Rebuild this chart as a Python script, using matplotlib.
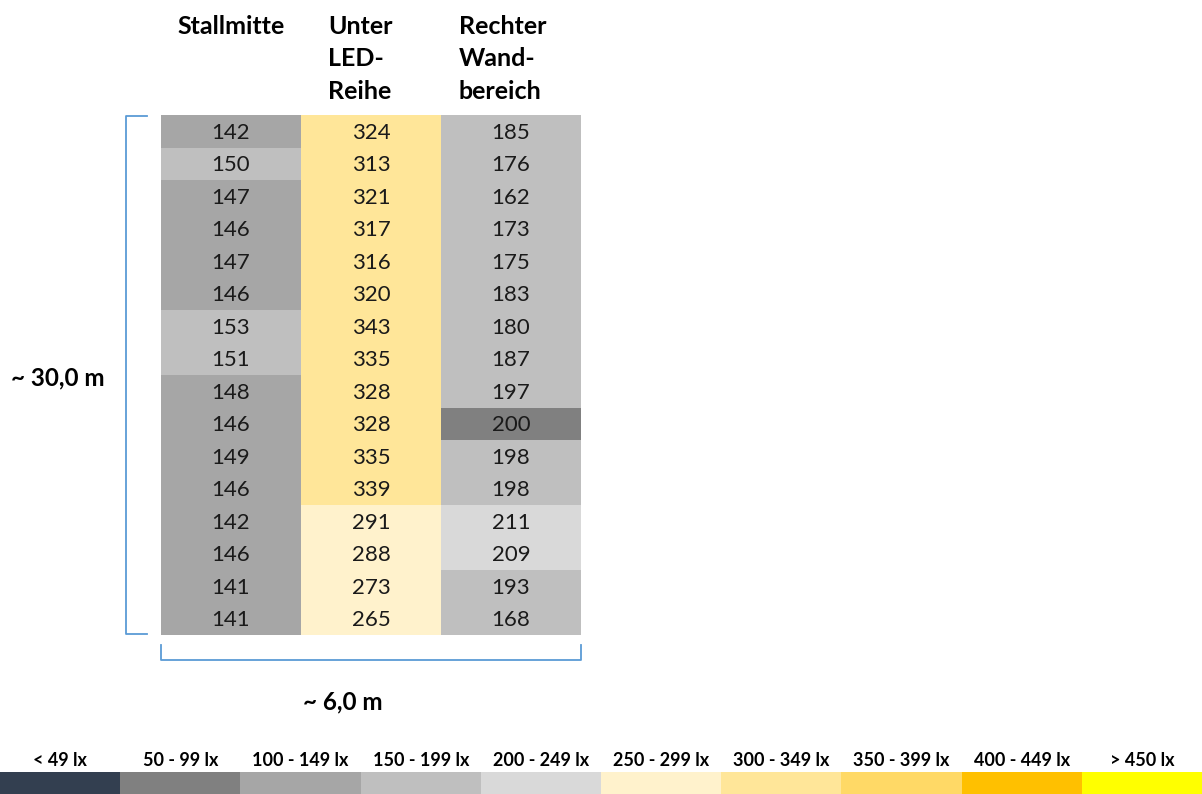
import numpy as np
import matplotlib.pyplot as plt
from matplotlib.patches import Rectangle

plt.rcParams['font.family'] = ['Lato', 'DejaVu Sans']

# measured illuminance (lx), top to bottom
headers = ['Stallmitte', 'Unter\nLED-\nReihe', 'Rechter\nWand-\nbereich']
stallmitte = [142, 150, 147, 146, 147, 146, 153, 151, 148, 146, 149, 146, 142, 146, 141, 141]
unter_led = [324, 313, 321, 317, 316, 320, 343, 335, 328, 328, 335, 339, 291, 288, 273, 265]
wand = [185, 176, 162, 173, 175, 183, 180, 187, 197, 200, 198, 198, 211, 209, 193, 168]

class_labels = ['< 49 lx', '50 - 99 lx', '100 - 149 lx', '150 - 199 lx', '200 - 249 lx',
                '250 - 299 lx', '300 - 349 lx', '350 - 399 lx', '400 - 449 lx', '> 450 lx']
class_colors = ['#333F50', '#808080', '#A6A6A6', '#BFBFBF', '#D9D9D9',
                '#FFF2CC', '#FFE699', '#FFD966', '#FFC000', '#FFFF00']
class_edges = [50, 100, 150, 200, 250, 300, 350, 400, 450]
# cell coloured differently in the original sheet: (row, col) -> class
overrides = {(9, 2): 1}

length_label = '~ 30,0 m'
width_label = '~ 6,0 m'

columns = [stallmitte, unter_led, wand]
n_rows = len(stallmitte)

fig = plt.figure(figsize=(12.02, 7.94), dpi=100)
ax = fig.add_axes([0, 0, 1, 1])
ax.set_xlim(0, 1202)
ax.set_ylim(794, 0)
ax.axis('off')

x0, y0, cw, rh = 161, 115, 140, 32.5
blue = '#5B9BD5'

for c, vals in enumerate(columns):
    for r, v in enumerate(vals):
        k = overrides.get((r, c), int(np.digitize(v, class_edges)))
        ax.add_patch(Rectangle((x0 + c * cw, y0 + r * rh), cw, rh,
                               facecolor=class_colors[k], edgecolor='none'))
        ax.text(x0 + c * cw + cw / 2, y0 + r * rh + rh / 2 + 1.5, str(v),
                ha='center', va='center', fontsize=16, color='#1a1a1a')
    ax.text([177, 328, 459][c], 15, headers[c], ha='left', va='top',
            fontsize=18, fontweight='bold', linespacing=1.5)

# brackets
top, bot = y0 + 1, y0 + n_rows * rh - 1
ax.plot([147, 126, 126, 147], [top, top, bot, bot], color=blue, lw=1.3)
right = x0 + 3 * cw
ax.plot([x0, x0, right, right], [645, 660, 660, 645], color=blue, lw=1.3)

ax.text(58, 378, length_label, ha='center', va='center', fontsize=17.5, fontweight='bold')
ax.text(343, 702, width_label, ha='center', va='center', fontsize=17.5, fontweight='bold')

# colour key
seg = 1202 / len(class_labels)
for i, (lab, col) in enumerate(zip(class_labels, class_colors)):
    ax.add_patch(Rectangle((i * seg, 772), seg, 22, facecolor=col, edgecolor='none'))
    ax.text(i * seg + seg / 2, 760, lab, ha='center', va='center',
            fontsize=13, fontweight='bold')

fig.savefig('out.png', dpi=100)
